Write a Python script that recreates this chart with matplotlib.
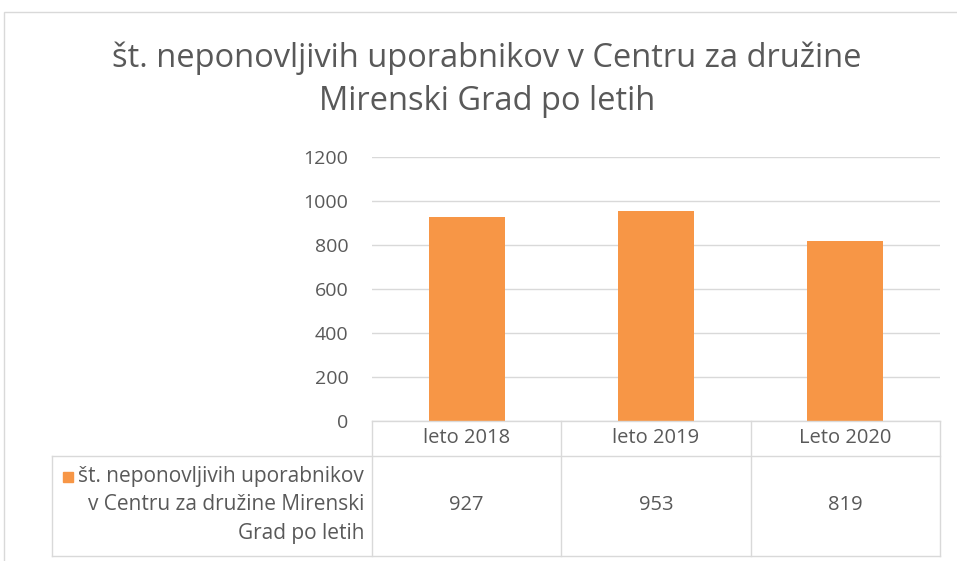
import matplotlib.pyplot as plt
from matplotlib.patches import Rectangle
from matplotlib.lines import Line2D

# Data
categories = ['leto 2018', 'leto 2019', 'Leto 2020']
values = [927, 953, 819]
series_name = 'št. neponovljivih uporabnikov\nv Centru za družine Mirenski\nGrad po letih'
title = 'št. neponovljivih uporabnikov v Centru za družine\nMirenski Grad po letih'
yticks = [0, 200, 400, 600, 800, 1000, 1200]

W, H = 957, 561
bar_color = '#F79646'
text_color = '#595959'
line_color = '#D9D9D9'
plt.rcParams['font.family'] = ['Open Sans', 'DejaVu Sans']


def fx(px):
    return px / W


def fy(py):
    return 1 - py / H


fig = plt.figure(figsize=(W / 100, H / 100), dpi=100)

# outer chart border
fig.add_artist(Rectangle((fx(4), fy(600)), fx(1000), fy(12) - fy(600),
                         transform=fig.transFigure, fill=False,
                         edgecolor=line_color, linewidth=1))

# Plot area
left, right, top, bottom = 372, 940, 157, 421
ax = fig.add_axes([fx(left), fy(bottom), fx(right - left), fy(top) - fy(bottom)])
x = range(len(categories))
ax.bar(x, values, width=0.4, color=bar_color, zorder=3)
ax.set_xlim(-0.5, len(categories) - 0.5)
ax.set_ylim(0, 1200)
ax.set_yticks(yticks)
ax.set_yticklabels([str(t) for t in yticks], fontsize=14, color=text_color)
ax.tick_params(axis='y', length=0, pad=17)
ax.set_xticks([])
ax.grid(axis='y', color=line_color, linewidth=1, zorder=0)
for s in ax.spines.values():
    s.set_visible(False)

fig.text(0.509, fy(80), title, ha='center', va='center', fontsize=23.5,
         color=text_color, linespacing=1.4)

# Data table
col_edges = [left + i * (right - left) / len(categories) for i in range(len(categories) + 1)]
row_top, row_mid, row_bot = 421, 456, 556
tleft = 52


def hline(x0, x1, y):
    fig.add_artist(Line2D([fx(x0), fx(x1)], [fy(y), fy(y)], color=line_color, lw=1))


def vline(xp, y0, y1):
    fig.add_artist(Line2D([fx(xp), fx(xp)], [fy(y0), fy(y1)], color=line_color, lw=1))


hline(left, right, row_top)
hline(tleft, right, row_mid)
hline(tleft, right, row_bot)
for xe in col_edges:
    vline(xe, row_top, row_bot)
vline(tleft, row_mid, row_bot)

for i, cat in enumerate(categories):
    cx = (col_edges[i] + col_edges[i + 1]) / 2
    fig.text(fx(cx), fy(438), cat, ha='center', va='center', fontsize=14.5, color=text_color)
    fig.text(fx(cx), fy(505), str(values[i]), ha='center', va='center', fontsize=14.5,
             color=text_color)

fig.text(fx(364), fy(505), series_name, ha='right', va='center', fontsize=15,
         color=text_color, linespacing=1.45)
fig.add_artist(Rectangle((fx(63), fy(482)), fx(10), fy(472) - fy(482),
                         transform=fig.transFigure, color=bar_color))

fig.savefig('out.png', dpi=100)
